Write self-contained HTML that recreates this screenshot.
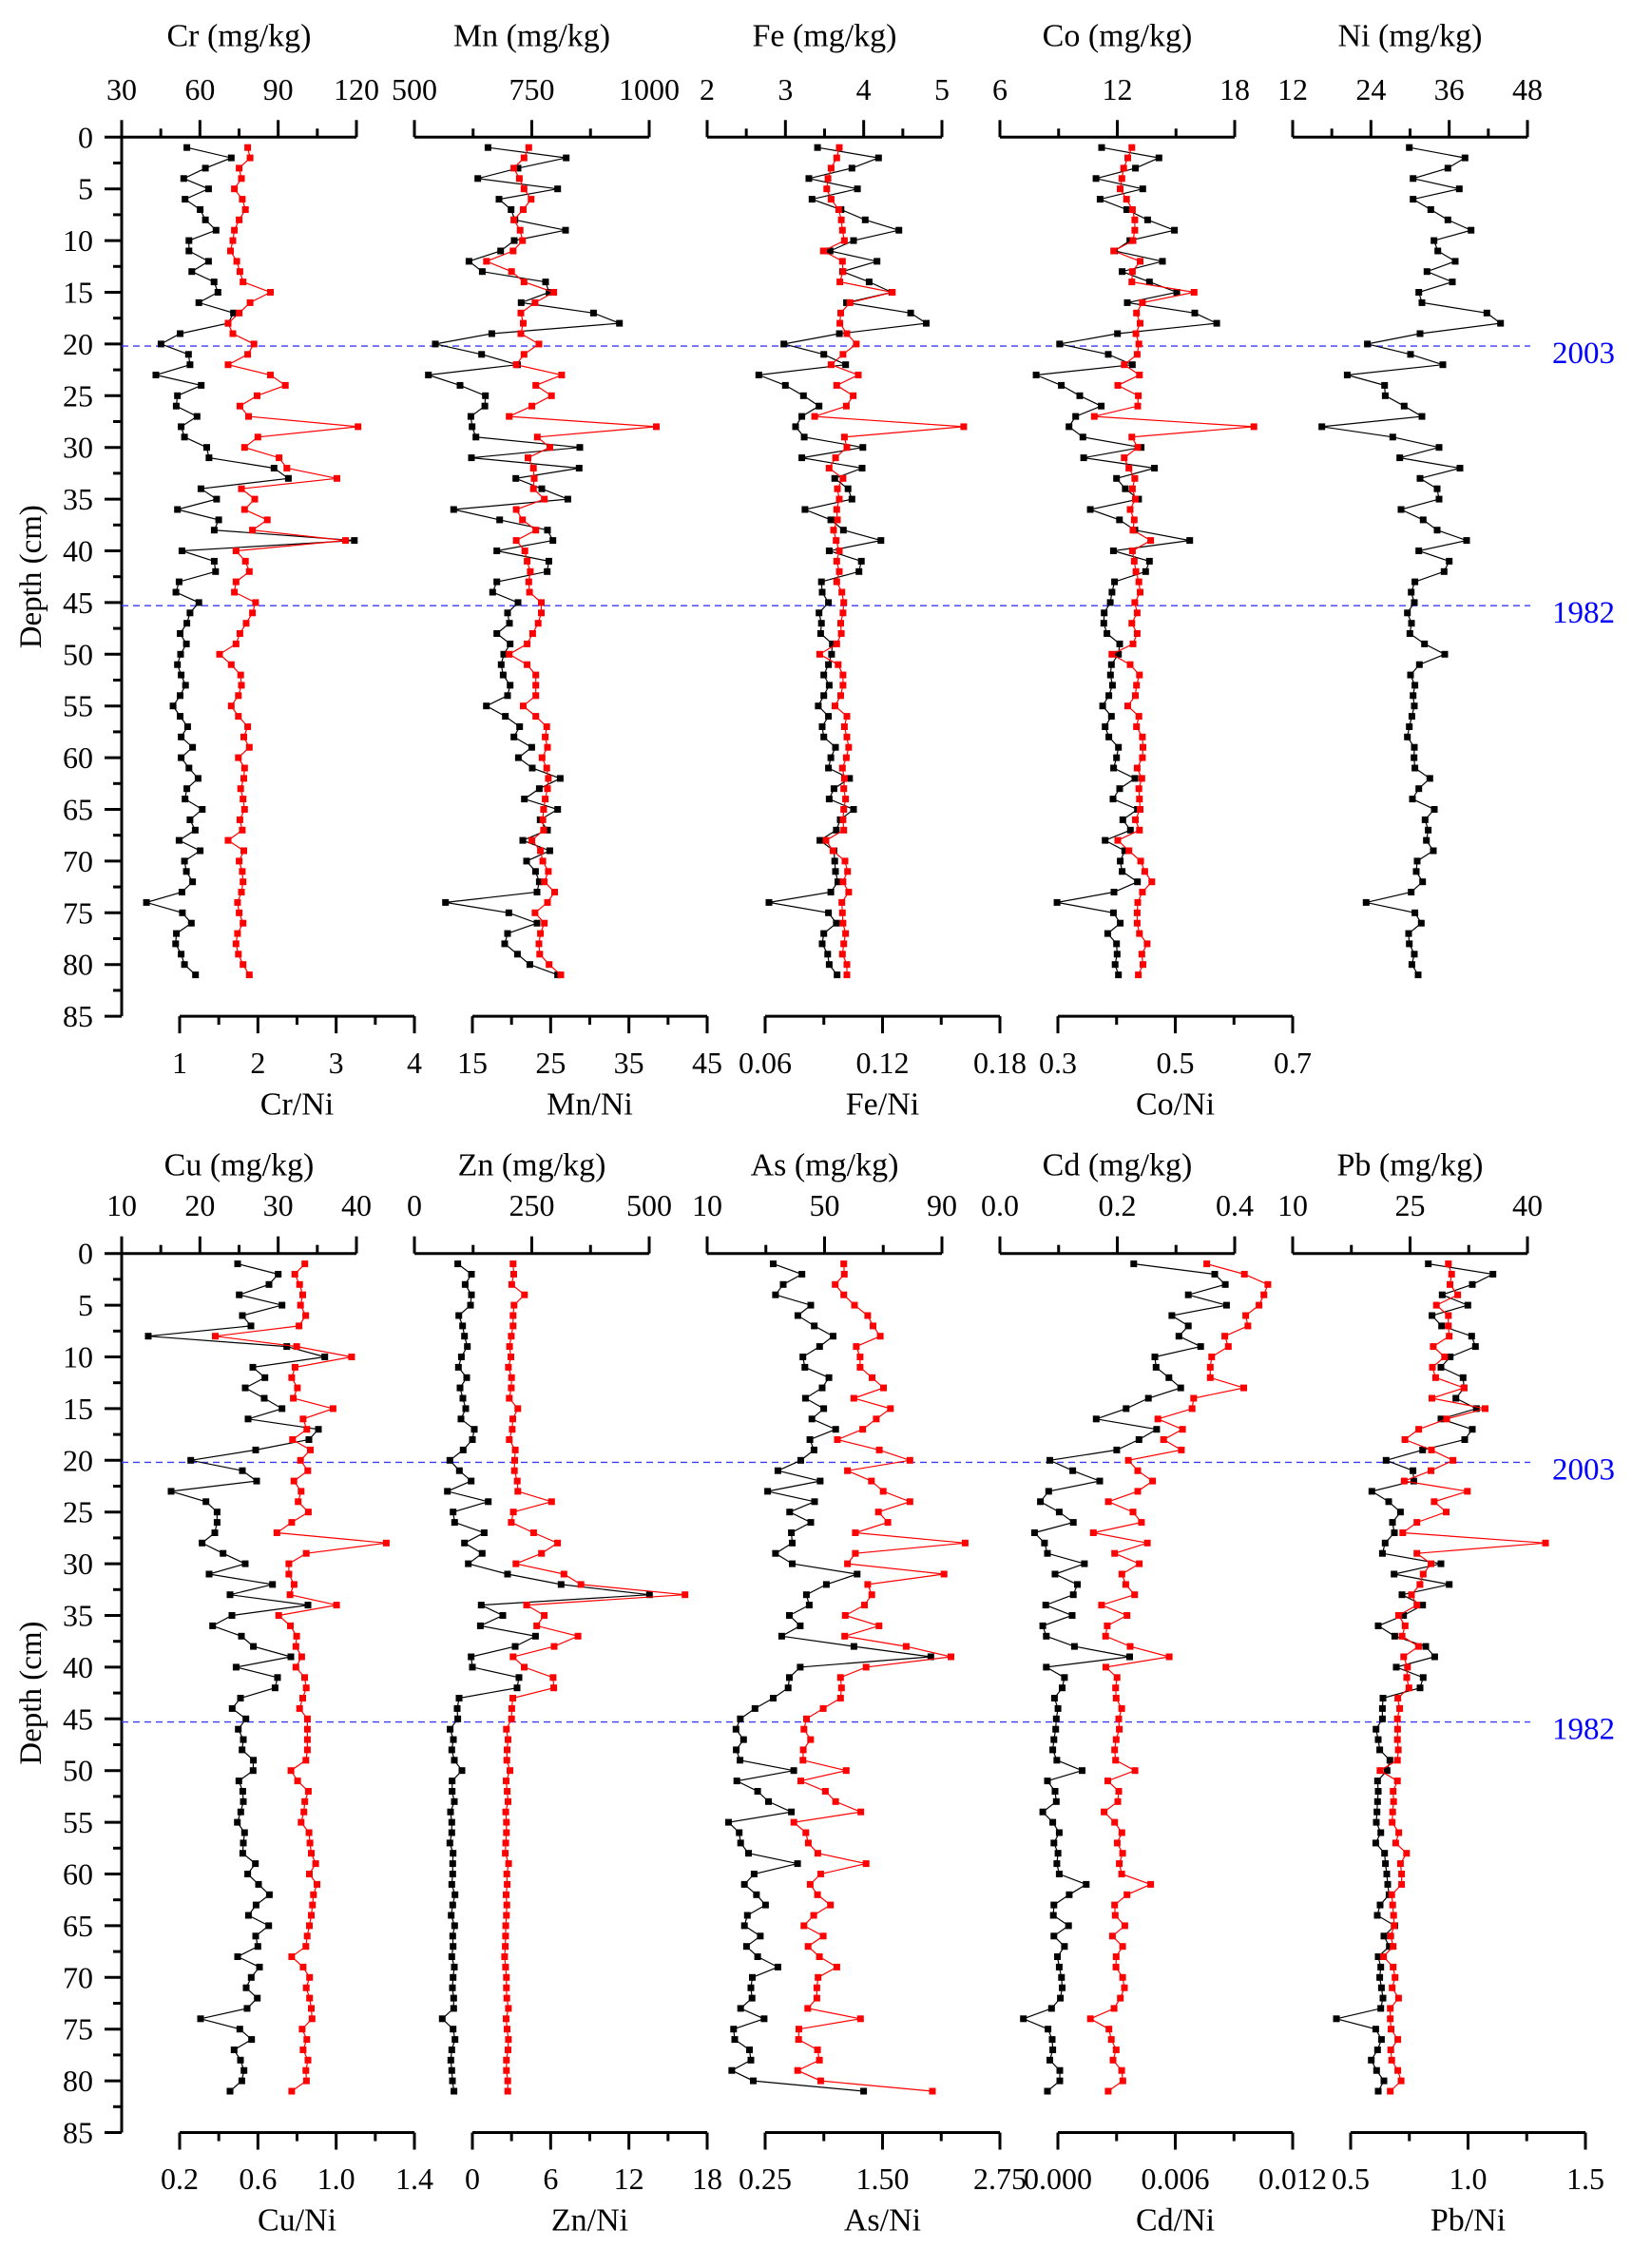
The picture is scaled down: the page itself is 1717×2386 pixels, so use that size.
<!DOCTYPE html>
<html><head><meta charset="utf-8"><style>
html,body{margin:0;padding:0;background:#fff;}
svg{display:block;}
svg text{font-family:"Liberation Serif","Times New Roman",serif;fill:#000;}
</style></head><body>
<svg id="chart" xmlns="http://www.w3.org/2000/svg" width="1717" height="2386" viewBox="0 0 1717 2386" font-family="Liberation Serif, serif">
<rect x="0" y="0" width="1717" height="2386" fill="#fff"/>
</svg>
<script>
const depths=[1,2,3,4,5,6,7,8,9,10,11,12,13,14,15,16,17,18,19,20,21,22,23,24,25,26,27,28,29,30,31,32,33,34,35,36,37,38,39,40,41,42,43,44,45,46,47,48,49,50,51,52,53,54,55,56,57,58,59,60,61,62,63,64,65,66,67,68,69,70,71,72,73,74,75,76,77,78,79,80,81];
const crConc=[55.0,72.0,62.1,53.8,63.3,54.3,60.1,62.1,66.2,55.8,55.8,63.3,56.9,65.4,66.9,59.6,72.9,70.8,52.4,45.1,55.6,56.2,43.1,60.5,51.4,50.9,58.9,52.8,54.1,62.6,63.5,88.4,93.9,60.4,66.4,51.4,67.2,65.5,119.2,53.1,65.5,66.0,52.0,50.8,59.6,56.2,55.0,52.4,54.8,52.6,51.4,52.8,54.5,52.4,49.7,52.4,55.3,52.8,57.2,52.8,55.8,59.3,55.0,54.3,60.9,56.2,58.2,52.0,60.1,54.1,54.8,57.2,53.1,39.5,53.3,56.7,51.0,50.7,52.8,54.1,58.3];
const crRatio=[1.87,1.90,1.76,1.79,1.70,1.80,1.84,1.76,1.70,1.68,1.65,1.73,1.77,1.81,2.16,1.90,1.76,1.62,1.68,1.95,1.87,1.62,2.16,2.35,1.99,1.77,1.88,3.28,2.00,1.83,2.27,2.37,3.01,1.79,1.96,1.83,2.12,1.93,3.12,1.72,1.84,1.89,1.72,1.70,1.97,1.93,1.85,1.77,1.72,1.51,1.66,1.78,1.79,1.75,1.66,1.75,1.87,1.82,1.89,1.75,1.83,1.82,1.78,1.81,1.83,1.77,1.80,1.62,1.82,1.76,1.80,1.81,1.79,1.74,1.76,1.81,1.74,1.72,1.75,1.81,1.89];
const mnConc=[656.6,823.3,720.7,635.0,805.1,680.2,705.9,714.0,821.9,712.6,683.6,616.1,644.5,779.4,786.8,727.4,881.3,936.6,664.7,544.6,643.1,719.4,529.7,597.2,651.2,649.9,620.2,622.9,631.0,852.3,621.5,850.9,716.0,771.3,826.7,583.7,681.6,783.5,794.9,675.5,786.2,782.8,675.5,666.7,720.7,698.4,702.5,675.5,703.8,690.3,684.9,689.0,703.8,698.4,653.2,693.7,724.1,711.9,749.7,721.4,751.1,810.5,765.9,734.2,805.1,767.9,783.5,730.8,788.2,738.9,757.8,765.9,761.2,566.2,701.1,761.2,698.4,692.4,719.4,745.7,805.1];
const mnRatio=[22.2,21.6,20.3,21.0,21.6,22.5,21.5,20.3,21.1,21.4,20.2,16.8,20.0,21.6,25.4,23.0,21.2,21.5,21.2,23.5,21.6,20.6,26.4,23.1,25.1,22.6,19.7,38.5,23.3,24.9,22.1,22.8,22.9,22.8,24.2,20.6,21.4,23.1,20.6,21.7,22.0,22.4,22.2,22.3,23.8,23.8,23.4,22.7,22.0,19.7,22.0,23.1,23.1,23.1,21.5,23.1,24.5,24.3,24.6,23.9,24.5,24.7,24.6,24.3,24.1,24.0,24.1,22.6,23.7,24.0,24.7,24.2,25.5,24.6,23.0,24.2,23.7,23.5,23.6,24.8,26.3];
const feConc=[3.41,4.19,3.85,3.30,3.92,3.34,3.71,4.02,4.45,3.87,3.57,4.17,3.73,4.07,4.36,3.78,4.60,4.80,3.69,2.98,3.49,3.77,2.66,3.00,3.23,3.43,3.21,3.13,3.24,3.99,3.21,3.98,3.63,3.80,3.85,3.25,3.58,3.74,4.22,3.56,3.97,3.94,3.46,3.47,3.55,3.43,3.46,3.45,3.60,3.59,3.55,3.49,3.56,3.49,3.42,3.55,3.47,3.49,3.64,3.58,3.55,3.82,3.62,3.56,3.87,3.70,3.65,3.44,3.62,3.63,3.64,3.67,3.58,2.79,3.55,3.65,3.49,3.47,3.54,3.56,3.66];
const feRatio=[.0979,.0966,.0937,.0921,.0915,.0937,.0976,.0989,.0995,.1005,.0898,.0995,.0998,.0982,.1250,.1034,.0986,.0982,.1018,.1066,.0998,.0937,.1076,.0966,.1050,.1015,.0853,.1615,.1005,.1018,.0960,.0927,.0998,.0969,.0979,.0966,.0969,.0950,.0963,.0979,.0966,.0979,.0966,.0992,.1002,.0998,.0986,.0989,.0966,.0879,.0973,.0998,.0998,.0986,.0957,.1018,.1005,.1018,.1027,.1015,.0995,.1005,.1002,.1011,.1002,.0998,.1002,.0911,.0947,.1008,.1021,.0998,.1027,.0992,.0995,.0998,.1011,.1002,.0995,.1018,.1018];
const coConc=[11.20,14.13,12.93,10.91,13.30,11.12,12.48,13.55,14.92,12.64,11.86,14.31,12.25,13.64,15.04,12.51,15.96,17.08,12.01,9.05,11.54,12.77,7.85,9.14,10.08,11.18,9.87,9.53,10.24,13.22,10.28,13.90,11.96,12.41,13.09,10.62,12.11,12.90,15.70,11.80,13.64,13.45,11.86,11.73,11.64,11.33,11.31,11.47,12.12,12.06,11.70,11.65,11.75,11.57,11.25,11.70,11.38,11.57,12.06,11.96,11.81,12.90,12.12,11.78,13.03,12.28,12.67,11.38,12.38,12.15,12.25,13.03,11.83,8.92,11.80,12.15,11.51,11.96,11.99,11.89,12.06];
const coRatio=[.426,.419,.412,.409,.406,.417,.427,.431,.431,.428,.395,.440,.427,.426,.532,.444,.434,.440,.433,.438,.435,.413,.439,.402,.437,.436,.362,.634,.426,.436,.413,.421,.431,.427,.432,.423,.430,.428,.458,.427,.430,.433,.438,.440,.431,.435,.426,.435,.428,.392,.423,.439,.434,.432,.419,.438,.434,.444,.445,.444,.435,.443,.438,.439,.440,.432,.439,.402,.421,.441,.448,.460,.444,.436,.435,.435,.439,.452,.443,.445,.437];
const niConc=[29.88,38.43,35.80,30.46,37.55,30.46,33.18,35.80,39.35,33.67,34.25,36.92,32.60,36.48,31.34,31.82,41.78,43.87,31.53,23.46,30.07,35.03,20.36,26.09,26.19,29.10,31.82,16.47,27.35,34.44,28.42,37.65,31.53,34.15,34.44,28.61,32.01,34.15,38.67,31.34,36.00,35.22,30.75,30.17,30.65,29.59,30.22,29.97,32.21,35.32,31.43,30.07,30.75,30.46,30.65,30.27,29.88,29.59,30.65,30.61,30.75,33.03,31.34,30.36,33.72,32.31,32.79,32.50,33.57,31.09,30.95,31.92,30.17,23.27,30.75,31.72,29.78,29.88,30.65,30.27,31.24];
const cuConc=[24.82,30.00,28.83,25.02,30.49,25.43,26.52,13.40,31.10,35.95,26.76,28.30,25.79,28.22,30.49,26.15,35.14,33.93,27.13,18.83,25.43,27.25,16.32,20.77,22.19,22.19,21.90,20.28,22.96,25.79,21.18,29.27,23.85,33.81,24.09,21.62,25.30,26.84,31.62,24.62,29.92,29.60,25.18,24.13,25.87,24.90,25.55,25.39,26.84,26.80,24.98,25.47,25.55,25.22,24.78,25.71,25.55,25.47,27.09,26.11,27.49,28.87,27.17,26.20,28.79,27.13,27.41,24.82,27.61,26.56,25.91,27.33,26.03,20.08,25.10,26.60,24.37,25.18,25.63,25.35,23.85];
const cuRatio=[.840,.789,.813,.829,.818,.844,.810,.382,.798,1.079,.790,.773,.802,.781,.984,.831,.850,.777,.868,.818,.855,.784,.821,.806,.858,.773,.697,1.256,.847,.758,.758,.785,.764,1.002,.706,.766,.798,.794,.824,.794,.839,.847,.829,.813,.853,.853,.853,.853,.845,.769,.803,.858,.840,.835,.821,.861,.866,.873,.895,.863,.902,.884,.879,.873,.863,.852,.845,.773,.831,.864,.847,.864,.873,.877,.826,.850,.831,.856,.845,.848,.773];
const znConc=[92.4,121.5,108.0,121.5,119.4,94.5,102.6,106.6,112.7,99.9,93.8,111.3,97.2,103.2,109.3,99.2,127.5,123.5,103.9,75.6,95.8,120.8,70.2,157.2,82.3,85.7,148.5,106.6,144.4,114.7,198.4,312.4,500.7,142.4,188.3,140.4,257.8,214.6,120.8,123.5,222.7,218.6,95.1,91.1,92.4,76.2,83.0,79.6,85.0,101.2,80.3,80.3,85.0,76.9,79.6,79.6,75.6,82.3,81.6,81.6,79.6,86.4,81.6,78.3,85.7,81.6,82.3,79.6,85.0,82.3,81.0,83.7,83.7,59.4,82.3,86.4,79.6,77.6,79.6,81.0,84.3];
const znRatio=[3.12,3.17,3.02,3.99,3.19,3.12,3.12,2.98,2.85,2.95,2.76,3.00,2.98,2.83,3.48,3.10,3.05,2.83,3.29,3.24,3.22,3.44,3.48,6.07,3.14,2.98,4.69,6.53,5.30,3.34,7.02,8.32,16.30,4.16,5.51,4.93,8.10,6.27,3.12,3.97,6.19,6.24,3.10,3.02,3.00,2.61,2.73,2.66,2.64,2.88,2.59,2.67,2.73,2.56,2.61,2.61,2.56,2.52,2.78,2.64,2.67,2.59,2.64,2.61,2.56,2.54,2.52,2.47,2.54,2.61,2.61,2.64,2.76,2.59,2.66,2.76,2.73,2.61,2.61,2.71,2.71];
const asConc=[32.5,42.3,35.9,33.3,45.3,40.9,46.5,52.9,48.3,42.6,43.3,51.5,49.2,43.5,49.7,45.7,53.8,45.0,46.4,41.9,34.1,48.5,30.6,46.6,38.1,45.3,38.7,39.0,33.3,39.0,61.1,50.6,43.8,44.8,38.0,41.7,35.4,60.0,86.2,41.7,38.0,37.6,32.5,26.3,21.3,19.8,22.4,19.9,21.2,39.5,20.1,27.2,30.9,38.7,17.3,20.9,21.4,24.1,40.8,26.0,22.7,26.8,29.9,23.7,22.7,28.1,23.4,27.2,34.1,25.4,24.9,25.3,21.4,29.4,19.0,19.4,24.4,24.9,18.4,25.7,63.3];
const asRatio=[1.087,1.093,.996,1.087,1.201,1.342,1.399,1.476,1.221,1.261,1.261,1.389,1.510,1.194,1.584,1.433,1.288,1.019,1.466,1.792,1.127,1.382,1.507,1.792,1.456,1.557,1.211,2.380,1.211,1.127,2.155,1.342,1.386,1.308,1.103,1.463,1.097,1.752,2.229,1.325,1.053,1.063,1.053,.868,.690,.663,.734,.656,.653,1.113,.630,.892,1.000,1.268,.556,.683,.710,.811,1.325,.841,.730,.808,.945,.767,.663,.868,.707,.828,1.013,.814,.801,.801,.703,1.265,.609,.606,.808,.828,.596,.841,2.031];
const cdConc=[.228,.366,.384,.321,.386,.293,.321,.305,.342,.264,.266,.288,.308,.253,.215,.164,.267,.237,.199,.085,.124,.170,.083,.069,.101,.125,.059,.076,.081,.144,.094,.132,.125,.078,.123,.073,.079,.127,.221,.079,.110,.106,.093,.099,.096,.095,.092,.090,.097,.140,.081,.094,.096,.073,.090,.101,.092,.099,.097,.101,.147,.118,.092,.091,.117,.092,.110,.098,.101,.105,.106,.103,.088,.040,.082,.089,.090,.085,.102,.102,.081];
const cdRatio=[.00761,.00953,.01073,.01053,.01028,.00960,.00971,.00853,.00871,.00786,.00779,.00779,.00950,.00694,.00686,.00511,.00637,.00540,.00631,.00360,.00408,.00484,.00408,.00258,.00384,.00427,.00181,.00457,.00290,.00416,.00327,.00347,.00392,.00223,.00353,.00252,.00244,.00369,.00569,.00245,.00302,.00295,.00298,.00326,.00311,.00314,.00298,.00290,.00295,.00394,.00255,.00311,.00306,.00236,.00290,.00327,.00303,.00331,.00314,.00326,.00474,.00353,.00290,.00293,.00342,.00279,.00331,.00298,.00297,.00331,.00340,.00319,.00287,.00166,.00261,.00273,.00298,.00282,.00326,.00332,.00257];
const pbConc=[27.33,35.59,32.96,29.11,32.39,27.81,29.03,32.87,33.36,30.12,28.95,31.78,31.90,30.85,33.48,28.95,32.96,31.98,26.60,21.94,25.38,25.47,20.12,22.27,23.77,22.75,23.00,21.82,21.46,28.95,22.96,30.00,23.97,26.60,24.17,20.93,23.04,27.00,28.14,23.24,26.68,26.28,21.54,21.46,21.46,20.65,20.93,21.13,22.43,22.06,20.85,20.93,20.85,20.77,20.69,21.26,20.61,21.74,21.86,22.02,22.15,22.31,21.17,20.81,23.04,21.66,22.35,20.93,21.26,21.13,21.34,21.54,21.26,15.59,20.61,21.34,20.85,20.04,20.73,21.66,20.93];
const pbRatio=[.916,.930,.923,.956,.865,.916,.916,.920,.852,.900,.848,.862,.983,.846,1.073,.909,.790,.731,.844,.936,.842,.728,.997,.856,.907,.782,.722,1.330,.782,.842,.809,.795,.759,.782,.704,.732,.719,.789,.726,.742,.739,.748,.701,.709,.699,.700,.699,.703,.699,.625,.699,.681,.683,.679,.677,.705,.692,.738,.712,.717,.717,.675,.679,.683,.685,.671,.681,.640,.681,.689,.677,.704,.669,.669,.672,.701,.671,.675,.701,.715,.669];
const depthTickLabels=['0','5','10','15','20','25','30','35','40','45','50','55','60','65','70','75','80','85'];
const eventDepths=[20.2,45.3];
const eventLabels=['2003','1982'];
const crTicks=['30','60','90','120'], crRTicks=['1','2','3','4'];
const mnTicks=['500','750','1000'], mnRTicks=['15','25','35','45'];
const feTicks=['2','3','4','5'], feRTicks=['0.06','0.12','0.18'];
const coTicks=['6','12','18'], coRTicks=['0.3','0.5','0.7'];
const niTicks=['12','24','36','48'];
const cuTicks=['10','20','30','40'], cuRTicks=['0.2','0.6','1.0','1.4'];
const znTicks=['0','250','500'], znRTicks=['0','6','12','18'];
const asTicks=['10','50','90'], asRTicks=['0.25','1.50','2.75'];
const cdTicks=['0.0','0.2','0.4'], cdRTicks=['0.000','0.006','0.012'];
const pbTicks=['10','25','40'], pbRTicks=['0.5','1.0','1.5'];

const NS='http://www.w3.org/2000/svg';
const svg=document.getElementById('chart');
const PPC=10.88, AXW=247;
const FONT='Liberation Serif, Times New Roman, serif';
function mk(tag,attrs,parent){const e=document.createElementNS(NS,tag);for(const k in attrs)e.setAttribute(k,attrs[k]);if(tag==='text')e.setAttribute('font-family',FONT);(parent||svg).appendChild(e);return e;}
function lin(d0,d1,r0,r1){return v=>r0+(v-d0)*(r1-r0)/(d1-d0);}

const sections=[
 {name:'upper',y0:144.3,titleY:38,tickY:94,rTickY:1118,rTitleY:1162,panels:[
  {el:'cr',title:'Cr (mg/kg)',conc:crConc,ticks:crTicks,rt:'Cr/Ni',ratio:crRatio,rticks:crRTicks},
  {el:'mn',title:'Mn (mg/kg)',conc:mnConc,ticks:mnTicks,rt:'Mn/Ni',ratio:mnRatio,rticks:mnRTicks},
  {el:'fe',title:'Fe (mg/kg)',conc:feConc,ticks:feTicks,rt:'Fe/Ni',ratio:feRatio,rticks:feRTicks},
  {el:'co',title:'Co (mg/kg)',conc:coConc,ticks:coTicks,rt:'Co/Ni',ratio:coRatio,rticks:coRTicks},
  {el:'ni',title:'Ni (mg/kg)',conc:niConc,ticks:niTicks,rt:null,ratio:null,rticks:null}]},
 {name:'lower',y0:1318.7,titleY:1226,tickY:1268,rTickY:2292,rTitleY:2336,panels:[
  {el:'cu',title:'Cu (mg/kg)',conc:cuConc,ticks:cuTicks,rt:'Cu/Ni',ratio:cuRatio,rticks:cuRTicks},
  {el:'zn',title:'Zn (mg/kg)',conc:znConc,ticks:znTicks,rt:'Zn/Ni',ratio:znRatio,rticks:znRTicks},
  {el:'as',title:'As (mg/kg)',conc:asConc,ticks:asTicks,rt:'As/Ni',ratio:asRatio,rticks:asRTicks},
  {el:'cd',title:'Cd (mg/kg)',conc:cdConc,ticks:cdTicks,rt:'Cd/Ni',ratio:cdRatio,rticks:cdRTicks},
  {el:'pb',title:'Pb (mg/kg)',conc:pbConc,ticks:pbTicks,rt:'Pb/Ni',ratio:pbRatio,rticks:pbRTicks}]}
];

function drawAxis(g,x0,yAxis,labels,labY,dir,nm){
  const n=labels.length, xs=lin(0,n-1,x0,x0+AXW);
  const ax=mk('line',{x1:x0,y1:yAxis,x2:x0+AXW,y2:yAxis,stroke:'#000','stroke-width':3},g);
  
  
  for(let i=0;i<n;i++){
    const x=xs(i);
    const t=mk('line',{x1:x,y1:yAxis,x2:x,y2:yAxis+dir*18,stroke:'#000','stroke-width':3},g);
    
    
    if(i<n-1){const xm=(x+xs(i+1))/2;
      const m=mk('line',{x1:xm,y1:yAxis,x2:xm,y2:yAxis+dir*9,stroke:'#000','stroke-width':3},g);
      
      }
    const tl=mk('text',{x:x,y:labY,'text-anchor':'middle','dominant-baseline':'central','font-size':32},g);
    tl.textContent=labels[i];
    
    
  }
  return v=>lin(parseFloat(labels[0]),parseFloat(labels[n-1]),x0,x0+AXW)(v);
}
function drawSeries(g,vals,xf,yf,color,nm){
  const pts=vals.map((v,i)=>[xf(v),yf(depths[i])]);
  const pl=mk('polyline',{points:pts.map(p=>p[0].toFixed(1)+','+p[1].toFixed(1)).join(' '),fill:'none',stroke:color,'stroke-width':1.2},g);
  
  
  pts.forEach(p=>{
    const r=mk('rect',{x:(p[0]-3.5).toFixed(1),y:(p[1]-3.5).toFixed(1),width:7,height:7,fill:color},g);
    
    
  });
}

sections.forEach(sec=>{
  const g=mk('g',{});
  
  
  const yf=lin(0,85,sec.y0,sec.y0+85*PPC);
  const yEnd=yf(85);
  const da=mk('line',{x1:128,y1:sec.y0,x2:128,y2:yEnd,stroke:'#000','stroke-width':3},g);
  
  
  depthTickLabels.forEach((lb,i)=>{
    const d=parseFloat(lb), y=yf(d);
    const t=mk('line',{x1:110,y1:y,x2:128,y2:y,stroke:'#000','stroke-width':3},g);
    
    
    if(i<depthTickLabels.length-1){const ym=yf(d+2.5);
      const m=mk('line',{x1:119,y1:ym,x2:128,y2:ym,stroke:'#000','stroke-width':3},g);
      
      }
    const tl=mk('text',{x:98,y:y,'text-anchor':'end','dominant-baseline':'central','font-size':32},g);
    tl.textContent=lb;
    
    
  });
  const dt=mk('text',{x:0,y:0,'text-anchor':'middle','dominant-baseline':'central','font-size':33,transform:'translate(33,'+((sec.y0+yEnd)/2)+') rotate(-90)'},g);
  dt.textContent='Depth (cm)';
  
  
  eventDepths.forEach((d,i)=>{
    const y=yf(d);
    const l=mk('line',{x1:128,y1:y,x2:1610,y2:y,stroke:'#3a3aff','stroke-width':1.4,'stroke-dasharray':'7 5'},g);
    
    
    const t=mk('text',{x:1666,y:y+8,'text-anchor':'middle','dominant-baseline':'central','font-size':33,fill:'#0000ff'},g);
    t.textContent=eventLabels[i];
    t.style.fill='#0000ff';
    
    
  });
  sec.panels.forEach((p,i)=>{
    const pg=mk('g',{},g);
    
    
    const x0=128+308*i;
    const tt=mk('text',{x:x0+AXW/2,y:sec.titleY,'text-anchor':'middle','dominant-baseline':'central','font-size':34},pg);
    tt.textContent=p.title;
    
    
    const xc=drawAxis(pg,x0,sec.y0,p.ticks,sec.tickY,-1,p.el+'-conc');
    let xr=null;
    if(p.ratio){
      const xr0=x0+61;
      xr=drawAxis(pg,xr0,yEnd,p.rticks,sec.rTickY,1,p.el+'-ratio');
      const rt=mk('text',{x:xr0+AXW/2,y:sec.rTitleY,'text-anchor':'middle','dominant-baseline':'central','font-size':34},pg);
      rt.textContent=p.rt;
      
      
    }
    drawSeries(pg,p.conc,xc,yf,'#000',p.el+'-concentration');
    if(p.ratio) drawSeries(pg,p.ratio,xr,yf,'#ff0000',p.el+'-ni-ratio');
  });
});
</script>
</body></html>
